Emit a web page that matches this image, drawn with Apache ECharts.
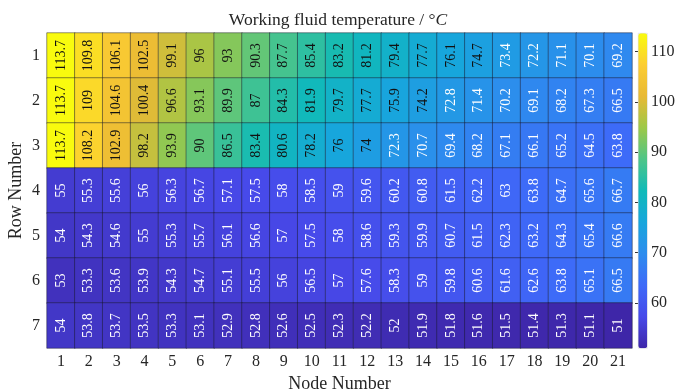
<!DOCTYPE html>
<html>
<head>
<meta charset="utf-8">
<title>Working fluid temperature</title>
<script src="https://cdn.jsdelivr.net/npm/echarts@6/dist/echarts.min.js"></script>
<style>
  html, body { margin: 0; padding: 0; background: #fff; }
  #chart { width: 676px; height: 390px; }
</style>
</head>
<body>
<div id="chart"></div>
<script>
// Node numbers along the channel and row numbers of the exchanger
const nodes = ['1','2','3','4','5','6','7','8','9','10','11','12','13','14','15','16','17','18','19','20','21'];
const rows = ['1','2','3','4','5','6','7'];

// Working fluid temperature (°C) per row, node 1..21
const row1 = [113.7,109.8,106.1,102.5,99.1,96,93,90.3,87.7,85.4,83.2,81.2,79.4,77.7,76.1,74.7,73.4,72.2,71.1,70.1,69.2];
const row2 = [113.7,109,104.6,100.4,96.6,93.1,89.9,87,84.3,81.9,79.7,77.7,75.9,74.2,72.8,71.4,70.2,69.1,68.2,67.3,66.5];
const row3 = [113.7,108.2,102.9,98.2,93.9,90,86.5,83.4,80.6,78.2,76,74,72.3,70.7,69.4,68.2,67.1,66.1,65.2,64.5,63.8];
const row4 = [55,55.3,55.6,56,56.3,56.7,57.1,57.5,58,58.5,59,59.6,60.2,60.8,61.5,62.2,63,63.8,64.7,65.6,66.7];
const row5 = [54,54.3,54.6,55,55.3,55.7,56.1,56.6,57,57.5,58,58.6,59.3,59.9,60.7,61.5,62.3,63.2,64.3,65.4,66.6];
const row6 = [53,53.3,53.6,53.9,54.3,54.7,55.1,55.5,56,56.5,57,57.6,58.3,59,59.8,60.6,61.6,62.6,63.8,65.1,66.5];
const row7 = [54,53.8,53.7,53.5,53.3,53.1,52.9,52.8,52.6,52.5,52.3,52.2,52,51.9,51.8,51.6,51.5,51.4,51.3,51.1,51];
const temps = [row1, row2, row3, row4, row5, row6, row7];

// Colour scale limits and colourbar tick labels
const tMin = 51;
const tMax = 113.7;
const colorbarTicks = [60, 70, 80, 90, 100, 110];

// Parula-like colour ramp
const parula = ['#3e26a8','#4749e9','#3e6af8','#2d8cee','#17a6dc','#10bab8','#4ec588','#9dc848','#e8b935','#fccd32','#f9fb0e'];

const serif = '"Liberation Serif", "DejaVu Serif", serif';
const textColor = '#262626';

const cells = [];
temps.forEach(function (vals, r) {
  vals.forEach(function (v, c) {
    cells.push({
      value: [c, r, v],
      label: { color: v >= 73.7 ? '#111111' : '#ffffff' }
    });
  });
});

const chart = echarts.init(document.getElementById('chart'), null, { renderer: 'canvas' });

chart.setOption({
  animation: false,
  backgroundColor: '#ffffff',
  title: {
    text: '{a|Working fluid temperature / °}{b|C}',
    left: 'center',
    top: 6,
    textStyle: {
      fontWeight: 'normal',
      rich: {
        a: { fontFamily: serif, fontSize: 17.5, color: textColor, fontWeight: 'normal' },
        b: { fontFamily: serif, fontSize: 17.5, color: textColor, fontWeight: 'normal', fontStyle: 'italic' }
      }
    }
  },
  grid: [
    { left: 47, right: 44, top: 33, height: 315, outerBoundsMode: 'none', containLabel: false },
    { left: 638, width: 9, top: 33, height: 315, outerBoundsMode: 'none', containLabel: false }
  ],
  xAxis: [
    {
      type: 'category',
      gridIndex: 0,
      data: nodes,
      name: 'Node Number',
      nameLocation: 'middle',
      nameGap: 27,
      nameMoveOverlap: false,
      nameTextStyle: { fontFamily: serif, fontSize: 18, color: textColor },
      axisLine: { show: false },
      axisTick: { show: false },
      axisLabel: { fontFamily: serif, fontSize: 16, color: textColor, margin: 6 },
      splitLine: { show: false }
    },
    { type: 'value', gridIndex: 1, show: false, min: 0, max: 1 }
  ],
  yAxis: [
    {
      type: 'category',
      gridIndex: 0,
      data: rows,
      inverse: true,
      name: 'Row Number',
      nameLocation: 'middle',
      nameGap: 22,
      nameMoveOverlap: false,
      nameRotate: 90,
      nameTextStyle: { fontFamily: serif, fontSize: 18, color: textColor },
      axisLine: { show: false },
      axisTick: { show: false },
      axisLabel: { fontFamily: serif, fontSize: 16, color: textColor, margin: 7 },
      splitLine: { show: false }
    },
    {
      type: 'value',
      gridIndex: 1,
      min: tMin,
      max: tMax,
      position: 'right',
      axisLine: { show: false },
      axisTick: {
        show: true,
        inside: true,
        length: 3,
        customValues: colorbarTicks,
        lineStyle: { color: '#333', width: 1 }
      },
      axisLabel: {
        customValues: colorbarTicks,
        fontFamily: serif,
        fontSize: 16,
        color: textColor,
        margin: 4
      },
      splitLine: { show: false }
    }
  ],
  visualMap: {
    type: 'continuous',
    seriesIndex: 0,
    dimension: 2,
    min: tMin,
    max: tMax,
    calculable: false,
    hoverLink: false,
    orient: 'vertical',
    left: 638,
    top: 33,
    itemWidth: 9,
    itemHeight: 315,
    padding: 0,
    text: null,
    borderColor: '#d0d0d0',
    borderWidth: 0.5,
    inRange: { color: parula }
  },
  series: [
    {
      type: 'heatmap',
      xAxisIndex: 0,
      yAxisIndex: 0,
      data: cells,
      itemStyle: { borderColor: 'rgba(25,25,45,0.6)', borderWidth: 0.8 },
      label: {
        show: true,
        rotate: 90,
        fontFamily: serif,
        fontSize: 14,
        formatter: function (p) { return String(p.value[2]); }
      },
      emphasis: { disabled: true }
    }
  ]
});
</script>
</body>
</html>
